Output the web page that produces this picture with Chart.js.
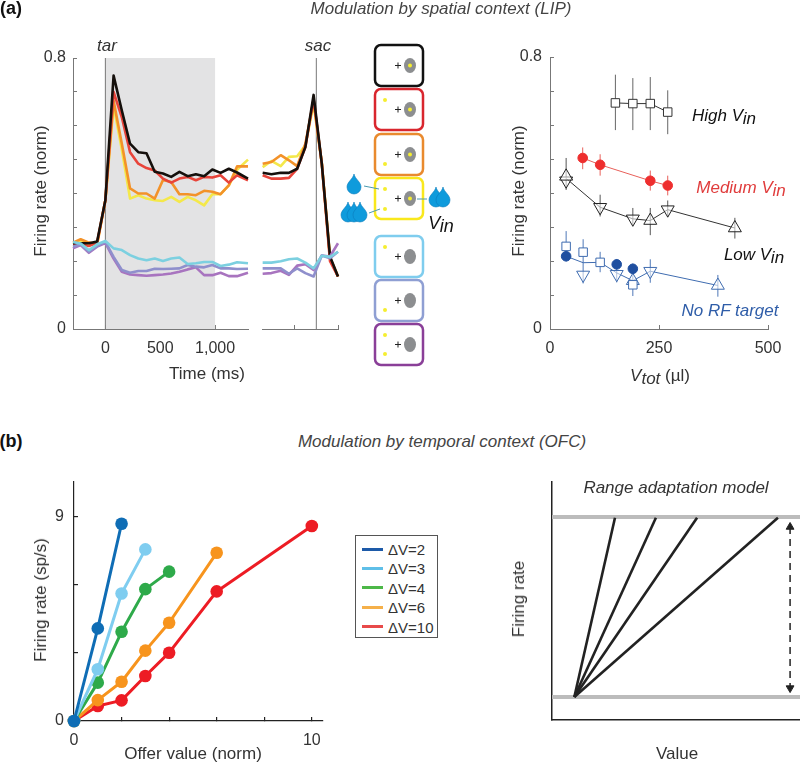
<!DOCTYPE html>
<html>
<head>
<meta charset="utf-8">
<style>
  html, body { margin: 0; padding: 0; background: #fff; }
  #page { position: relative; width: 800px; height: 762px; overflow: hidden; font-family: "Liberation Sans", Arial, sans-serif; color: #333; }
  #page canvas, #page svg { position: absolute; }
  .lbl { position: absolute; white-space: nowrap; transform: translate(-50%, -50%); }
  .sub { position: relative; top: 3px; }
</style>
<script src="https://cdn.jsdelivr.net/npm/chart.js@4"></script>
</head>
<body>
<div id="page"></div>
<script>
// (a) left: time courses aligned on target onset
const tarTime = [-295, -225, -150, -75, 0, 75, 150, 225, 300, 375, 450, 525, 600, 675, 750, 825, 900, 975, 1050, 1125, 1200, 1300];
const tarBlack = [.253, .253, .253, .258, .38, .748, .645, .547, .522, .519, .464, .459, .449, .464, .451, .457, .451, .471, .461, .473, .462, .444];
const tarRed = [.25, .25, .245, .255, .38, .70, .625, .522, .488, .475, .468, .444, .432, .444, .449, .439, .449, .447, .454, .432, .454, .439];
const tarOrange = [.255, .265, .255, .25, .38, .674, .547, .415, .40, .40, .385, .44, .434, .398, .398, .395, .408, .405, .398, .424, .48, .48];
const tarYellow = [.25, .26, .25, .25, .38, .66, .53, .385, .395, .385, .38, .378, .39, .375, .39, .38, .365, .398, .398, .424, .47, .50];
const tarCyan = [.257, .252, .233, .25, .26, .238, .233, .218, .208, .203, .208, .201, .208, .211, .192, .194, .198, .198, .186, .19, .197, .194];
const tarPeri = [.243, .25, .228, .245, .257, .213, .174, .166, .171, .171, .178, .177, .178, .179, .189, .184, .182, .189, .179, .179, .177, .178];
const tarPurple = [.238, .248, .225, .243, .254, .208, .169, .161, .159, .157, .159, .161, .164, .169, .176, .182, .159, .159, .166, .156, .156, .166];

// (a) left: time courses aligned on saccade
const sacTime = [-490, -410, -325, -250, -175, -100, -25, 50, 125, 198];
const sacBlack = [.461, .457, .461, .461, .473, .537, .691, .488, .214, .155];
const sacRed = [.454, .444, .444, .446, .473, .537, .68, .488, .2, .155];
const sacOrange = [.488, .493, .513, .498, .481, .547, .674, .49, .21, .155];
const sacYellow = [.478, .496, .481, .508, .51, .542, .664, .49, .21, .155];
const sacCyan = [.196, .196, .2, .206, .208, .196, .179, .216, .213, .228];
const sacPeri = [.179, .179, .179, .163, .179, .165, .155, .217, .209, .228];
const sacPurple = [.163, .165, .172, .16, .187, .191, .174, .217, .214, .253];

const rateTicks = [0, .1, .2, .3, .4, .5, .6, .7, .8];
const rateLabels = { 0: '0', 0.8: '0.8' };
const timeTicks = [0, 500, 1000];
const timeLabels = { 0: '0', 500: '500', 1000: '1,000' };
const sacTicks = [-200, 198];

// (a) right: rate against total value
const highX = [150, 190, 230, 270];
const highY = [.665, .663, .663, .638];
const highHi = [.748, .738, .741, .702];
const highLo = [.585, .585, .585, .573];
const medX = [75, 115, 230, 270];
const medY = [.503, .483, .436, .422];
const medHi = [.534, .514, .466, .451];
const medLo = [.470, .451, .407, .393];
const lowX = [37, 115, 190, 230, 270, 424];
const lowY = [.443, .358, .324, .319, .351, .297];
const lowHi = [.503, .395, .356, .356, .378, .327];
const lowLo = [.409, .331, .305, .276, .329, .266];
const lowUpX = [37, 230, 424];
const lowUpY = [.449, .319, .297];
const lowDownX = [37, 115, 190, 270];
const lowDownY = [.436, .358, .324, .351];
const noX = [37, 76, 115, 153, 190, 230, 385];
const noY = [.214, .195, .196, .165, .142, .17, .128];
const noHi = [.288, .264, .227, .206, .193, .205, .159];
const noLo = [.198, .134, .167, .137, .097, .136, .095];
const noSquareX = [37, 76, 115, 190];
const noSquareY = [.243, .226, .196, .13];
const noCircleX = [37, 153, 190];
const noCircleY = [.214, .19, .177];
const noDownX = [76, 153, 230];
const noDownY = [.159, .161, .17];
const noUpX = [190, 385];
const noUpY = [.142, .128];
const volTicks = [0, 250, 500];

// (b) left: rate against offer value
const dvNames = ['ΔV=2', 'ΔV=3', 'ΔV=4', 'ΔV=6', 'ΔV=10'];
const dvColors = ['#0f6db5', '#7fcdf0', '#2eaa4a', '#f7941d', '#ed1c24'];
const legendColors = ['#1d5aa8', '#5fbfe8', '#4db848', '#f5b04a', '#e84a4a'];
const dv2X = [0, 1, 2];
const dv2Y = [0, 4.08, 8.69];
const dv3X = [0, 1, 2, 3];
const dv3Y = [0, 2.28, 5.62, 7.56];
const dv4X = [0, 1, 2, 3, 4];
const dv4Y = [0, 1.69, 3.93, 5.81, 6.58];
const dv6X = [0, 1, 2, 3, 4, 6];
const dv6Y = [0, .92, 1.73, 3.1, 4.33, 7.41];
const dv10X = [0, 1, 2, 3, 4, 6, 10];
const dv10Y = [0, .66, .91, 1.98, 3.01, 5.71, 8.59];
const offerTicks = [0, 2, 4, 6, 8, 10];
const offerLabels = { 0: '0', 10: '10' };
const spikeTicks = [0, 3, 6, 9];
const spikeLabels = { 0: '0', 9: '9' };

// (b) right: model
const modelStartX = .09;
const modelEndX = [.254, .419, .585, .911];
const modelLow = .097;
const modelHigh = .853;
const arrowX = .96;
const arrowY = [.811, .134];

const page = document.getElementById('page');
const TEXT = '#333';
const zip = (xs, ys) => xs.map((x, i) => ({ x, y: ys[i] }));
const errBars = (xs, lo, hi) => xs.flatMap((x, i) => [{ x, y: lo[i] }, { x, y: hi[i] }, { x, y: null }]);

function label(html, x, y, o = {}) {
    const d = document.createElement('div');
    d.className = 'lbl';
    d.innerHTML = html;
    d.style.left = x + 'px';
    d.style.top = y + 'px';
    d.style.fontSize = (o.size || 17) + 'px';
    d.style.color = o.color || TEXT;
    if (o.italic) d.style.fontStyle = 'italic';
    if (o.bold) d.style.fontWeight = 'bold';
    if (o.rot) d.style.transform = 'translate(-50%, -50%) rotate(' + o.rot + 'deg)';
    page.appendChild(d);
}

function line(xs, ys, color, width) {
    return { data: zip(xs, ys), showLine: true, borderColor: color, borderWidth: width || 2.6, pointRadius: 0, borderJoinStyle: 'round', clip: false };
}

function marks(xs, ys, style, color, fill, radius, rotation) {
    return { data: zip(xs, ys), showLine: false, pointStyle: style, pointRadius: radius, pointBorderColor: color, pointBackgroundColor: fill, pointBorderWidth: 1, pointRotation: rotation || 0, clip: false };
}

function errs(xs, lo, hi, color) {
    return { data: errBars(xs, lo, hi), showLine: true, spanGaps: false, borderColor: color, borderWidth: 1, pointRadius: 0, clip: false };
}

const shadePlugin = {
    id: 'shade',
    beforeDatasetsDraw(chart, args, opts) {
        if (!opts.to) return;
        const x = chart.scales.x, a = chart.chartArea;
        const x0 = x.getPixelForValue(opts.from), x1 = x.getPixelForValue(opts.to);
        chart.ctx.fillStyle = opts.color;
        chart.ctx.fillRect(x0, a.top, x1 - x0, a.bottom - a.top);
    }
};

function axis(o) {
    const tickFont = { family: '"Liberation Sans", Arial, sans-serif', size: 16 };
    return {
        type: 'linear',
        display: o.display !== false,
        min: o.min,
        max: o.max,
        afterBuildTicks: s => { s.ticks = (o.ticks || []).map(value => ({ value })); },
        afterFit: s => { if (o.size !== undefined) { if (s.isHorizontal()) s.height = o.size; else s.width = o.size; } s.paddingLeft = s.paddingRight = s.paddingTop = s.paddingBottom = 0; },
        border: { display: true, color: o.color, width: o.lineWidth || 1 },
        grid: { drawOnChartArea: false, drawTicks: !!o.ticks, tickLength: -4, color: o.color, lineWidth: o.lineWidth || 1 },
        ticks: {
            display: !!o.labels,
            autoSkip: false,
            maxRotation: 0,
            padding: o.padding || 14,
            color: TEXT,
            font: tickFont,
            callback: v => (o.labels && o.labels[v] !== undefined ? o.labels[v] : '')
        }
    };
}

// box = plot area in page pixels
function panel(box, datasets, xOpt, yOpt, shade) {
    const L = yOpt.display === false ? 8 : 70, T = 14, R = 22, B = 40;
    const c = document.createElement('canvas');
    const right = Math.min(box.x1 + R, 800);
    c.width = right - box.x0 + L;
    c.height = box.y1 - box.y0 + T + B;
    c.style.left = (box.x0 - L) + 'px';
    c.style.top = (box.y0 - T) + 'px';
    page.appendChild(c);
    return new Chart(c, {
        type: 'scatter',
        data: { datasets },
        plugins: [shadePlugin],
        options: {
            responsive: false,
            animation: false,
            events: [],
            layout: { autoPadding: false, padding: { top: T, right: right - box.x1, left: 0, bottom: 0 } },
            scales: { x: axis({ ...xOpt, size: B }), y: axis({ ...yOpt, size: L }) },
            plugins: { legend: { display: false }, tooltip: { enabled: false }, shade: shade || {} }
        }
    });
}

const COL = { black: '#15100c', red: '#e8443a', orange: '#f39229', yellow: '#f4e84a', cyan: '#7cd0e0', peri: '#8f8fcc', purple: '#a874bf', axis: '#777', vline: '#777' };

// panel a, target aligned
panel({ x0: 73, x1: 248, y0: 57.5, y1: 329 }, [
    line(tarTime, tarCyan, COL.cyan),
    line(tarTime, tarPeri, COL.peri),
    line(tarTime, tarPurple, COL.purple),
    line(tarTime, tarBlack, COL.black),
    line(tarTime, tarRed, COL.red),
    line(tarTime, tarOrange, COL.orange),
    line(tarTime, tarYellow, COL.yellow),
    line([0, 0], [0, .8], COL.vline, 1)
], { min: -295, max: 1300, ticks: timeTicks, labels: timeLabels, color: COL.axis },
   { min: 0, max: .8, ticks: rateTicks, labels: rateLabels, color: COL.axis, padding: 11 },
   { from: 0, to: 1000, color: '#e3e3e4' });

// panel a, saccade aligned
panel({ x0: 262, x1: 338, y0: 57.5, y1: 329 }, [
    line(sacTime, sacCyan, COL.cyan),
    line(sacTime, sacPeri, COL.peri),
    line(sacTime, sacPurple, COL.purple),
    line(sacTime, sacBlack, COL.black),
    line(sacTime, sacRed, COL.red),
    line(sacTime, sacOrange, COL.orange),
    line(sacTime, sacYellow, COL.yellow),
    line([0, 0], [0, .8], COL.vline, 1)
], { min: -496, max: 198, ticks: sacTicks, color: COL.axis },
   { min: 0, max: .8, display: false });

// panel a, rate against total value
const BLUE = '#1f4fa0';
const WHITE = 'rgba(255,255,255,.55)';
panel({ x0: 550, x1: 768, y0: 57, y1: 329 }, [
    marks(highX, highY, 'rect', '#333', '#fff', 6),
    line(highX, highY, '#333', 1),
    errs(highX, highLo, highHi, '#666'),
    marks(medX, medY, 'circle', '#ee2e2e', '#ee2e2e', 4.8),
    line(medX, medY, '#e8605a', 1),
    errs(medX, medLo, medHi, '#e8605a'),
    marks(lowUpX, lowUpY, 'triangle', '#222', WHITE, 7.5),
    marks(lowDownX, lowDownY, 'triangle', '#222', WHITE, 7.5, 180),
    line(lowX, lowY, '#333', 1),
    errs(lowX, lowLo, lowHi, '#555'),
    marks(noCircleX, noCircleY, 'circle', BLUE, BLUE, 4.8),
    marks(noSquareX, noSquareY, 'rect', '#3f6cb0', '#fff', 6),
    marks(noUpX, noUpY, 'triangle', '#3f6cb0', WHITE, 7.5),
    marks(noDownX, noDownY, 'triangle', '#3f6cb0', WHITE, 7.5, 180),
    line(noX, noY, '#3f6cb0', 1),
    errs(noX, noLo, noHi, '#4f78b8')
], { min: 0, max: 500, ticks: volTicks, labels: { 0: '0', 250: '250', 500: '500' }, color: COL.axis },
   { min: 0, max: .8, ticks: rateTicks, labels: rateLabels, color: COL.axis, padding: 12 });

// panel b, rate against offer value
const dvSeries = [[dv2X, dv2Y], [dv3X, dv3Y], [dv4X, dv4Y], [dv6X, dv6Y], [dv10X, dv10Y]];
panel({ x0: 74, x1: 323, y0: 482, y1: 721 }, dvSeries.map(([xs, ys], i) => ({
    ...line(xs, ys, dvColors[i], 3),
    pointRadius: 6.3,
    pointBackgroundColor: dvColors[i],
    pointBorderWidth: 0
})), { min: 0, max: 10.47, ticks: offerTicks, labels: offerLabels, color: '#222', lineWidth: 1.2 },
   { min: 0, max: 10.53, ticks: spikeTicks, labels: spikeLabels, color: '#222', lineWidth: 1.2 });

// panel b, model
panel({ x0: 552, x1: 800, y0: 482, y1: 720 }, [
    marks([arrowX, arrowX], arrowY, 'triangle', '#222', '#222', 4.5, [0, 180]),
    { ...line([arrowX, arrowX], arrowY, '#222', 1.5), borderDash: [7, 5] },
    ...modelEndX.map(x => ({ ...line([modelStartX, x], [modelLow, modelHigh - .003], '#222', 2.6), borderCapStyle: 'butt' })),
    line([0, 1], [modelHigh, modelHigh], '#bcbcbc', 4),
    line([0, 1], [modelLow, modelLow], '#bcbcbc', 4)
], { min: 0, max: 1, color: '#222', lineWidth: 1.5 },
   { min: 0, max: 1, color: '#222', lineWidth: 1.5 });

// cartoon column
const boxes = [
    { y: 45, c: '#111', dots: [], fix: true },
    { y: 89, c: '#d9262e', dots: [11], fix: true },
    { y: 134, c: '#e98a2e', dots: [30], fix: true },
    { y: 178, c: '#f9e81c', dots: [11, 31], fix: true },
    { y: 236, c: '#7fcdee', dots: [11], fix: false },
    { y: 280, c: '#8f9fd3', dots: [30], fix: false },
    { y: 324, c: '#8a3f98', dots: [11, 30], fix: false }
];
const drop = (x, y) => `<path d="M${x},${y - 10} C${x + 1},${y - 5} ${x + 7},${y - 2} ${x + 7},${y + 3} A7,7 0 1 1 ${x - 7},${y + 3} C${x - 7},${y - 2} ${x - 1},${y - 5} ${x},${y - 10} Z" fill="#0f9bdc" stroke="#0b7cbc" stroke-width=".6"/>`;
let svg = '<svg width="800" height="400" style="left:0;top:0">';
boxes.forEach(b => {
    const cy = b.y + 20.5;
    svg += `<rect x="375" y="${b.y}" width="48" height="41" rx="6" fill="#fff" stroke="${b.c}" stroke-width="2.5"/>`;
    svg += `<path d="M395,${cy} h6 M398,${cy - 3} v6" stroke="#222" stroke-width="1"/>`;
    svg += `<ellipse cx="410" cy="${cy}" rx="6" ry="7.5" fill="#8c8e90"/>`;
    if (b.fix) svg += `<circle cx="410" cy="${cy}" r="2" fill="#f5ee30"/>`;
    b.dots.forEach(d => { svg += `<circle cx="385" cy="${b.y + d}" r="2" fill="#f5ee30"/>`; });
});
svg += '<path d="M364,186 L379,189 M369,213 L380,209 M417,199 L427,199" stroke="#4a9ab0" stroke-width="1" fill="none"/>';
[[354, 184], [348, 212], [354, 212], [360, 212], [436, 197], [443, 197]].forEach(p => { svg += drop(p[0], p[1]); });
svg += '</svg>';
page.insertAdjacentHTML('beforeend', svg);

// legend of panel b
const legend = document.createElement('div');
legend.style.cssText = 'position:absolute;left:355px;top:535px;width:81px;height:101px;border:1.5px solid #555;background:#fff';
page.appendChild(legend);
dvNames.forEach((name, i) => {
    const y = 549 + i * 19.4;
    const s = document.createElement('div');
    s.style.cssText = `position:absolute;left:362px;top:${y - 1.5}px;width:21px;height:3px;background:${legendColors[i]}`;
    page.appendChild(s);
    const t = document.createElement('div');
    t.className = 'lbl';
    t.textContent = name;
    t.style.cssText = `left:388px;top:${y}px;font-size:15px;transform:translateY(-50%)`;
    page.appendChild(t);
});

// text
const vin = 'V<span class="sub">in</span>';
label('(a)', 11, 8, { size: 18, bold: true, color: '#111' });
label('(b)', 11, 441, { size: 18, bold: true, color: '#111' });
label('Modulation by spatial context (LIP)', 441, 9, { italic: true, color: '#444' });
label('Modulation by temporal context (OFC)', 442, 442, { italic: true, color: '#444' });
label('tar', 107, 46, { italic: true });
label('sac', 318, 46, { italic: true });
label('Firing rate (norm)', 41, 191, { rot: -90 });
label('Time (ms)', 207, 374);
label(vin, 441, 223, { size: 18, italic: true, color: '#111' });
label('Firing rate (norm)', 519, 191, { rot: -90 });
label('<i>V<span class="sub">tot</span></i> (µl)', 660, 376);
label('High ' + vin, 724, 116, { italic: true, color: '#111' });
label('Medium ' + vin, 741, 188, { italic: true, color: '#e03c3c' });
label('Low ' + vin, 754, 255, { italic: true, color: '#111' });
label('No RF target', 730, 311, { italic: true, color: '#2f5da8' });
label('Firing rate (sp/s)', 41, 600, { rot: -90 });
label('Offer value (norm)', 193, 754);
label('Range adaptation model', 676, 488, { italic: true });
label('Firing rate', 519, 599, { rot: -90 });
label('Value', 677, 754);
</script>
</body>
</html>
